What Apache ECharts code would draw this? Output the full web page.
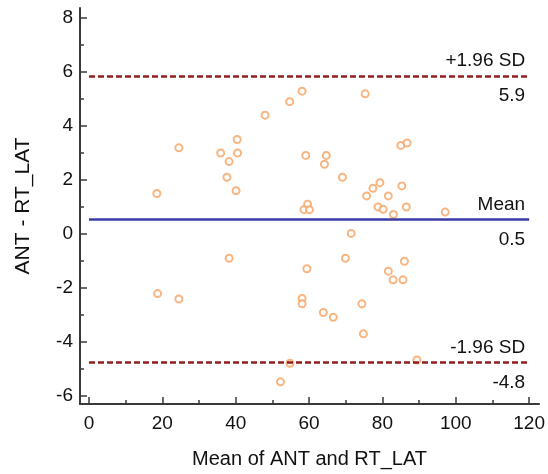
<!DOCTYPE html>
<html>
<head>
<meta charset="utf-8">
<script src="https://cdn.jsdelivr.net/npm/echarts@6/dist/echarts.min.js"></script>
<style>
  html, body { margin: 0; padding: 0; background: #fff; }
  #chart { width: 548px; height: 474px; }
</style>
</head>
<body>
<div id="chart"></div>
<script>
// mean of the two measures (x) and their difference (y)
var meanVals = [18.5, 24.5, 18.7, 24.5, 35.9, 38.2, 40.4, 40.5, 37.6, 40.1,
                38.2, 48.0, 54.7, 58.1, 75.3, 59.1, 64.7, 64.2, 69.1, 59.6,
                58.6, 60.1, 71.5, 75.7, 77.4, 79.3, 81.6, 85.3, 78.8, 80.2,
                86.5, 83.0, 97.1, 85.0, 86.7, 69.9, 59.4, 58.1, 58.1, 63.9,
                66.6, 74.4, 74.8, 86.0, 81.6, 82.9, 85.6, 89.4, 54.8, 52.2];
var diffVals = [1.5, 3.19, -2.21, -2.41, 3.0, 2.68, 3.5, 3.0, 2.1, 1.6,
                -0.9, 4.4, 4.9, 5.29, 5.19, 2.91, 2.91, 2.58, 2.1, 1.1,
                0.9, 0.9, 0.02, 1.41, 1.69, 1.9, 1.41, 1.78, 1.0, 0.91,
                1.0, 0.72, 0.81, 3.28, 3.37, -0.9, -1.29, -2.39, -2.59, -2.91,
                -3.09, -2.59, -3.7, -1.01, -1.38, -1.7, -1.7, -4.67, -4.79, -5.48];

// reference lines: value, label above, label below
var refVals = [5.86, 0.55, -4.75];
var refTop = ['+1.96 SD', 'Mean', '-1.96 SD'];
var refBottom = ['5.9', '0.5', '-4.8'];

var xTicks = [0, 20, 40, 60, 80, 100, 120];
var xMinor = [10, 30, 50, 70, 90, 110];
var yTicks = [-6, -4, -2, 0, 2, 4, 6, 8];
var yMinor = [-5, -3, -1, 1, 3, 5, 7];

var font = 'Liberation Sans, Arial, sans-serif';
var axisColor = '#3a3a3a';
var red = '#931d1d';
var blue = '#3b3ba6';

var points = meanVals.map(function (x, i) { return [x, diffVals[i]]; });

var markData = [];
refVals.forEach(function (v, i) {
    var style = i == 1
        ? { color: blue, width: 2.6, type: 'solid' }
        : { color: red, width: 2.6, type: [6, 3] };
    markData.push([
        { coord: [0, v], lineStyle: style,
          label: { formatter: refTop[i], position: 'insideEndTop', distance: [4, 5] } },
        { coord: [120, v] }
    ]);
    markData.push([
        { coord: [0, v], lineStyle: { color: 'rgba(0,0,0,0)', width: 1 },
          label: { formatter: refBottom[i], position: 'insideEndBottom', distance: [4, 11] } },
        { coord: [120, v] }
    ]);
});

var chart = echarts.init(document.getElementById('chart'));

var option = {
    animation: false,
    grid: { left: 80, right: 8, top: 8, bottom: 70 },
    xAxis: [
        {
            type: 'value', min: -2.45, max: 122.7,
            name: 'Mean of ANT and RT_LAT', nameLocation: 'middle', nameGap: 45,
            nameTextStyle: { color: '#111', fontSize: 20, fontFamily: font },
            axisLine: { show: true, onZero: false, lineStyle: { color: axisColor, width: 2 } },
            axisTick: { show: true, inside: true, length: 7, customValues: xTicks,
                        lineStyle: { color: axisColor, width: 1.5 } },
            axisLabel: { customValues: xTicks, margin: 10, color: '#111', fontSize: 19, fontFamily: font },
            splitLine: { show: false }
        },
        {
            type: 'value', min: -2.45, max: 122.7, position: 'bottom',
            axisLine: { show: false, onZero: false },
            axisTick: { show: true, inside: true, length: 4, customValues: xMinor,
                        lineStyle: { color: axisColor, width: 1.5 } },
            axisLabel: { show: false },
            splitLine: { show: false }
        }
    ],
    yAxis: [
        {
            type: 'value', min: -6.3, max: 8.37,
            name: 'ANT - RT_LAT', nameLocation: 'middle', nameGap: 46,
            nameTextStyle: { color: '#111', fontSize: 21, fontFamily: font },
            axisLine: { show: true, onZero: false, lineStyle: { color: axisColor, width: 2 } },
            axisTick: { show: true, inside: true, length: 7, customValues: yTicks,
                        lineStyle: { color: axisColor, width: 1.5 } },
            axisLabel: { customValues: yTicks, margin: 7, color: '#111', fontSize: 19, fontFamily: font },
            splitLine: { show: false }
        },
        {
            type: 'value', min: -6.3, max: 8.37, position: 'left',
            axisLine: { show: false, onZero: false },
            axisTick: { show: true, inside: true, length: 4, customValues: yMinor,
                        lineStyle: { color: axisColor, width: 1.5 } },
            axisLabel: { show: false },
            splitLine: { show: false }
        }
    ],
    series: [
        {
            type: 'scatter',
            data: points,
            symbol: 'emptyCircle',
            symbolSize: 7,
            itemStyle: { color: '#f5a262', borderColor: '#f5a262', borderWidth: 1.4 },
            markLine: {
                silent: true,
                symbol: 'none',
                label: { color: '#111', fontSize: 19, fontFamily: font },
                data: markData
            }
        }
    ]
};

chart.setOption(option);
window.addEventListener('resize', function () {
    chart.resize();
});
</script>
</body>
</html>
